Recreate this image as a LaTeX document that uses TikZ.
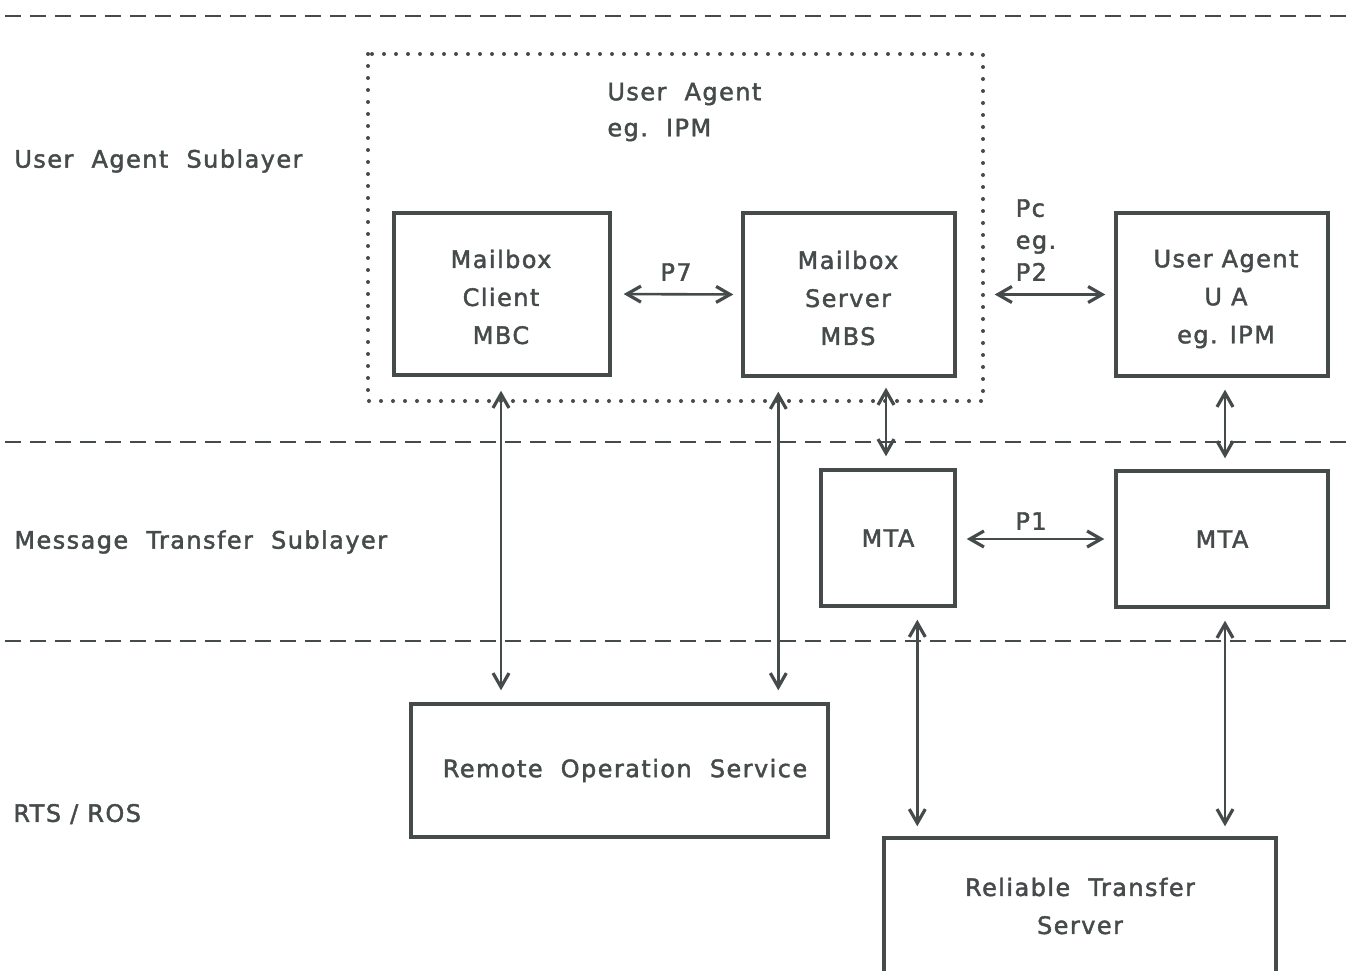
\documentclass[tikz,border=0pt]{standalone}
\usepackage{fontspec}
\setmainfont{DejaVu Sans}[LetterSpace=6,FakeBold=1.8]
\usetikzlibrary{arrows.meta,calc}
\definecolor{ink}{HTML}{454A4A}
\begin{document}
\begin{tikzpicture}[x=0.5pt,y=-0.5pt,
  every node/.style={text=ink,font=\fontsize{12}{19}\selectfont},
  box/.style={draw=ink,line width=1.7pt,inner sep=0pt,align=center},
  layerline/.style={draw=ink,line width=1.2pt,dash pattern=on 8pt off 4.5pt},
  dotbox/.style={draw=ink,line width=2pt,line cap=round,dash pattern=on 0pt off 6pt},
  dbl/.style={draw=ink,line width=1.3pt,{Straight Barb[length=7pt,width=8pt,line width=1.6pt]}-{Straight Barb[length=7pt,width=8pt,line width=1.6pt]}},
  lbl/.style={anchor=west,inner sep=0pt}]
\useasboundingbox (0,0) rectangle (1348,970);
% layer separators
\coordinate (l1a) at (5,16);   \coordinate (l1b) at (1348,16);
\coordinate (l2a) at (5,442);  \coordinate (l2b) at (1348,442);
\coordinate (l3a) at (5,641);  \coordinate (l3b) at (1348,641);
\draw[layerline] (l1a) -- (l1b);
\draw[layerline] (l2a) -- (l2b);
\draw[layerline] (l3a) -- (l3b);
% dotted user agent frame
\coordinate (uaf1) at (368,54); \coordinate (uaf2) at (983,401);
\draw[dotbox] (uaf1) rectangle (uaf2);
\node[lbl] (uat1) at (607,94) {User\ \ Agent};
\node[lbl] (uat2) at (607,130) {eg.\ \ IPM};
% layer labels
\node[lbl] (lay1) at (14,161) {User\ \ Agent\ \ Sublayer};
\node[lbl] (lay2) at (14,542) {Message\ \ Transfer\ \ Sublayer};
\node[lbl] (lay3) at (13,814) {RTS / ROS};
% boxes
\node[box,minimum width=108pt,minimum height=81pt] (mbc) at (502,294) {};
\node (mbctext) at (501,297) [align=center] {Mailbox\\Client\\MBC};
\node[box,minimum width=106pt,minimum height=81.5pt] (mbs) at (849,294.5) {};
\node (mbstext) at (848,298) [align=center] {Mailbox\\Server\\MBS};
\node[box,minimum width=106pt,minimum height=81.5pt] (ua) at (1222,294.5) {};
\node (uatext) at (1226,299) [align=center] {User Agent\\U A\\eg. IPM};
\node[box,minimum width=67pt,minimum height=68pt] (mta1) at (888,538) {MTA};
\node[box,minimum width=106pt,minimum height=68pt] (mta2) at (1222,539) {MTA};
\node[box,minimum width=208.5pt,minimum height=66.5pt] (ros) at (619.5,770.5) {\hspace*{5.5pt}Remote\ \ Operation\ \ Service};
\node[box,minimum width=196pt,minimum height=68pt] (rts) at (1080,906) {Reliable\ \ Transfer\\Server};
% protocol labels
\node (p7) at (676,272) {P7};
\node[align=left,font=\fontsize{12}{16}\selectfont] (pc) at (1036,240) {Pc\\eg.\\P2};
\node (p1) at (1031,521) {P1};
% horizontal connectors
\draw[dbl,shorten <=6pt,shorten >=4pt] (mbc.east) -- (mbs.west);
\draw[dbl,shorten <=19pt,shorten >=4.5pt] (mbs.east) -- (ua.west);
\draw[dbl,shorten <=5pt,shorten >=5pt] (mta1.east |- mta2.west) -- (mta2.west);
% vertical connectors
\coordinate (mbcx) at ($(mbc.south)+(-1,0)$);
\coordinate (rosa) at (mbcx |- ros.north);
\draw[dbl,shorten <=7pt,shorten >=6pt] (mbcx) -- (rosa);
\coordinate (mbsx) at ($(mbs.south west)+(37,0)$);
\coordinate (rosb) at (mbsx |- ros.north);
\draw[dbl,shorten <=7pt,shorten >=6pt] (mbsx) -- (rosb);
\coordinate (mtaax) at ($(mta1.north)+(-2,0)$);
\coordinate (mbsy) at (mtaax |- mbs.south);
\draw[dbl,shorten <=5pt,shorten >=6pt] (mbsy) -- (mtaax);
\coordinate (uax) at ($(ua.south)+(3,0)$);
\coordinate (mtabx) at (uax |- mta2.north);
\draw[dbl,shorten <=6pt,shorten >=5.5pt] (uax) -- (mtabx);
\coordinate (mtax) at ($(mta1.south west)+(98,0)$);
\coordinate (rtsa) at (mtax |- rts.north);
\draw[dbl,shorten <=6pt,shorten >=5pt] (mtax) -- (rtsa);
\coordinate (mtbx) at ($(mta2.south)+(3,0)$);
\coordinate (rtsb) at (mtbx |- rts.north);
\draw[dbl,shorten <=6pt,shorten >=5pt] (mtbx) -- (rtsb);
\end{tikzpicture}
\end{document}
